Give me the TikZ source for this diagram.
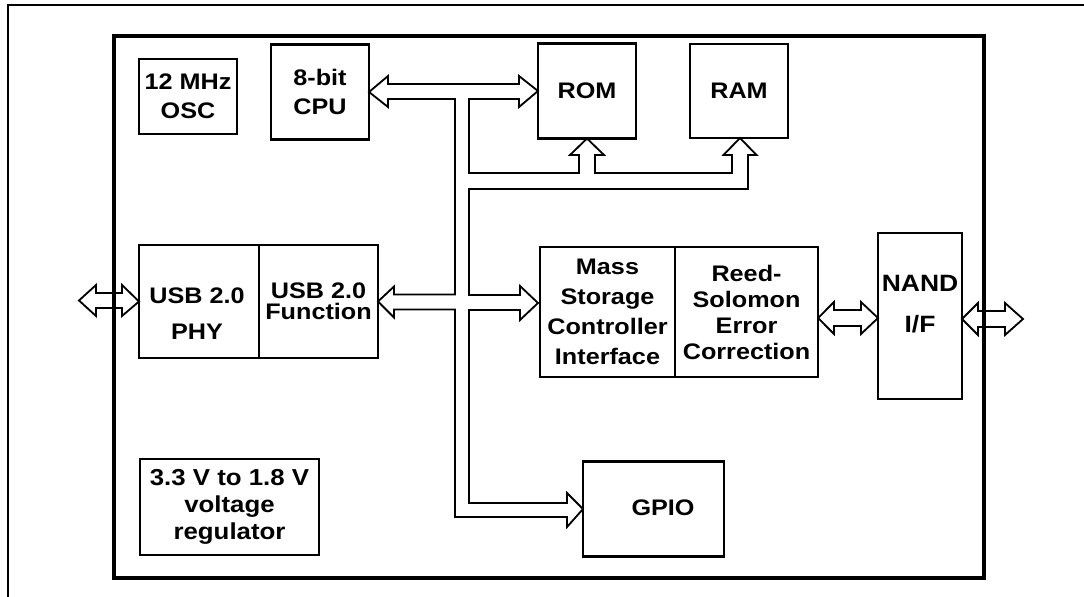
\documentclass[tikz,border=0pt]{standalone}
\usepackage{fontspec}
\setmainfont{Liberation Sans}[FakeStretch=1.12]
\usetikzlibrary{positioning,calc}
\tikzset{
  blkbox/.style={draw, line width=1.6pt, outer sep=0pt, inner sep=0pt, align=center, font=\bfseries\fontsize{16}{20}\selectfont},
  blklabel/.style={inner sep=0pt, align=center, font=\bfseries\fontsize{16}{20}\selectfont},
  busline/.style={line width=1.3pt, line join=miter},
  chipframe/.style={line width=2.4pt},
  pageframe/.style={line width=1.4pt}
}

\begin{document}
\begin{tikzpicture}[x=0.025cm, y=-0.025cm]
  \useasboundingbox (0,0) rectangle (1084,597);
  % blocks
  \node[blkbox, minimum width=2.45cm, minimum height=1.875cm, font=\bfseries\fontsize{16}{20.6}\selectfont] (osc) at (188,96.5) {12 MHz\\OSC};
  \node[blkbox, minimum width=2.45cm, minimum height=2.375cm] (cpu) at (320,92) {8-bit\\CPU};
  \node[blkbox, minimum width=2.45cm, minimum height=2.375cm] (rom) at (587,91) {ROM};
  \node[blkbox, minimum width=2.45cm, minimum height=2.35cm] (ram) at (739,91) {RAM};
  \node[blkbox, minimum width=3.0cm, minimum height=2.825cm] (usbphy) at (199,301.5) {};
  \node[blklabel, font=\bfseries\fontsize{16}{25.6}\selectfont] (usbphytxt) at (197,313.5) {USB 2.0\\PHY};
  \node[blkbox, minimum width=2.975cm, minimum height=2.825cm, font=\bfseries\fontsize{16}{15}\selectfont, right=0pt of usbphy] (usbfn) {USB 2.0\\Function};
  \node[blkbox, minimum width=3.375cm, minimum height=3.25cm, font=\bfseries\fontsize{16}{21.3}\selectfont] (msc) at (607.5,312) {Mass\\Storage\\Controller\\Interface};
  \node[blkbox, minimum width=3.575cm, minimum height=3.25cm, font=\bfseries\fontsize{16}{18.5}\selectfont, right=0pt of msc] (rs) {Reed-\\Solomon\\Error\\Correction};
  \node[blkbox, minimum width=2.1cm, minimum height=4.15cm] (nand) at (920,316) {};
  \node[blklabel, font=\bfseries\fontsize{16.8}{29.2}\selectfont] (nandtxt) at (920,304.5) {NAND\\I/F};
  \node[blkbox, minimum width=3.525cm, minimum height=2.375cm] (gpio) at (653.5,509) {};
  \node[blklabel] (gpiotxt) at (663,508) {GPIO};
  \node[blkbox, minimum width=4.475cm, minimum height=2.4cm, font=\bfseries\fontsize{16.4}{19.2}\selectfont] (reg) at (229.5,507) {3.3 V to 1.8 V\\voltage\\regulator};
  % internal bus
  \draw[busline] (rom.west) -- (519,76) -- (519,84) -- (388,84) -- (388,76) -- (cpu.east)
    -- (388,107) -- (388,99) -- (455,99) -- (455,294.5) -- (394,294.5) -- (394,286.5)
    -- (usbfn.east) -- (394,317.5) -- (394,309.5) -- (455,309.5) -- (455,517)
    -- (567,517) -- (567,527) -- (gpio.west) -- (567,493) -- (567,503) -- (469,503)
    -- (469,310) -- (520,310) -- (520,320) -- ($(msc.west)+(-2,-9)$) -- (520,286) -- (520,295)
    -- (469,295) -- (469,189) -- (748,189) -- (748,155) -- (756.5,155) -- ($(ram.south)+(1,0)$)
    -- (723.5,155) -- (732,155) -- (732,173) -- (595,173) -- (595,155) -- (604,155)
    -- (rom.south) -- (570,155) -- (579,155) -- (579,173) -- (469,173) -- (469,99)
    -- (519,99) -- (519,107) -- cycle;
  % external links
  \draw[busline] (79,300.5) -- (96,285) -- (96,293) -- (122,293) -- (122,285) -- (usbphy.west)
    -- (122,316) -- (122,308) -- (96,308) -- (96,316) -- cycle;
  \draw[busline] ($(rs.east)+(0,6)$) -- (834,302) -- (834,310) -- (861,310) -- (861,302)
    -- ($(nand.west)+(0,2)$) -- (861,334) -- (861,326) -- (834,326) -- (834,334) -- cycle;
  \draw[busline] ($(nand.east)+(0,3)$) -- (978,303) -- (978,311) -- (1005,311) -- (1005,303)
    -- (1023,319) -- (1005,335) -- (1005,327) -- (978,327) -- (978,335) -- cycle;
  % frames
  \draw[chipframe] (114,36) rectangle (984,578);
  \draw[pageframe] (8,597) -- (8,5) -- (1084,5);
\end{tikzpicture}
\end{document}
